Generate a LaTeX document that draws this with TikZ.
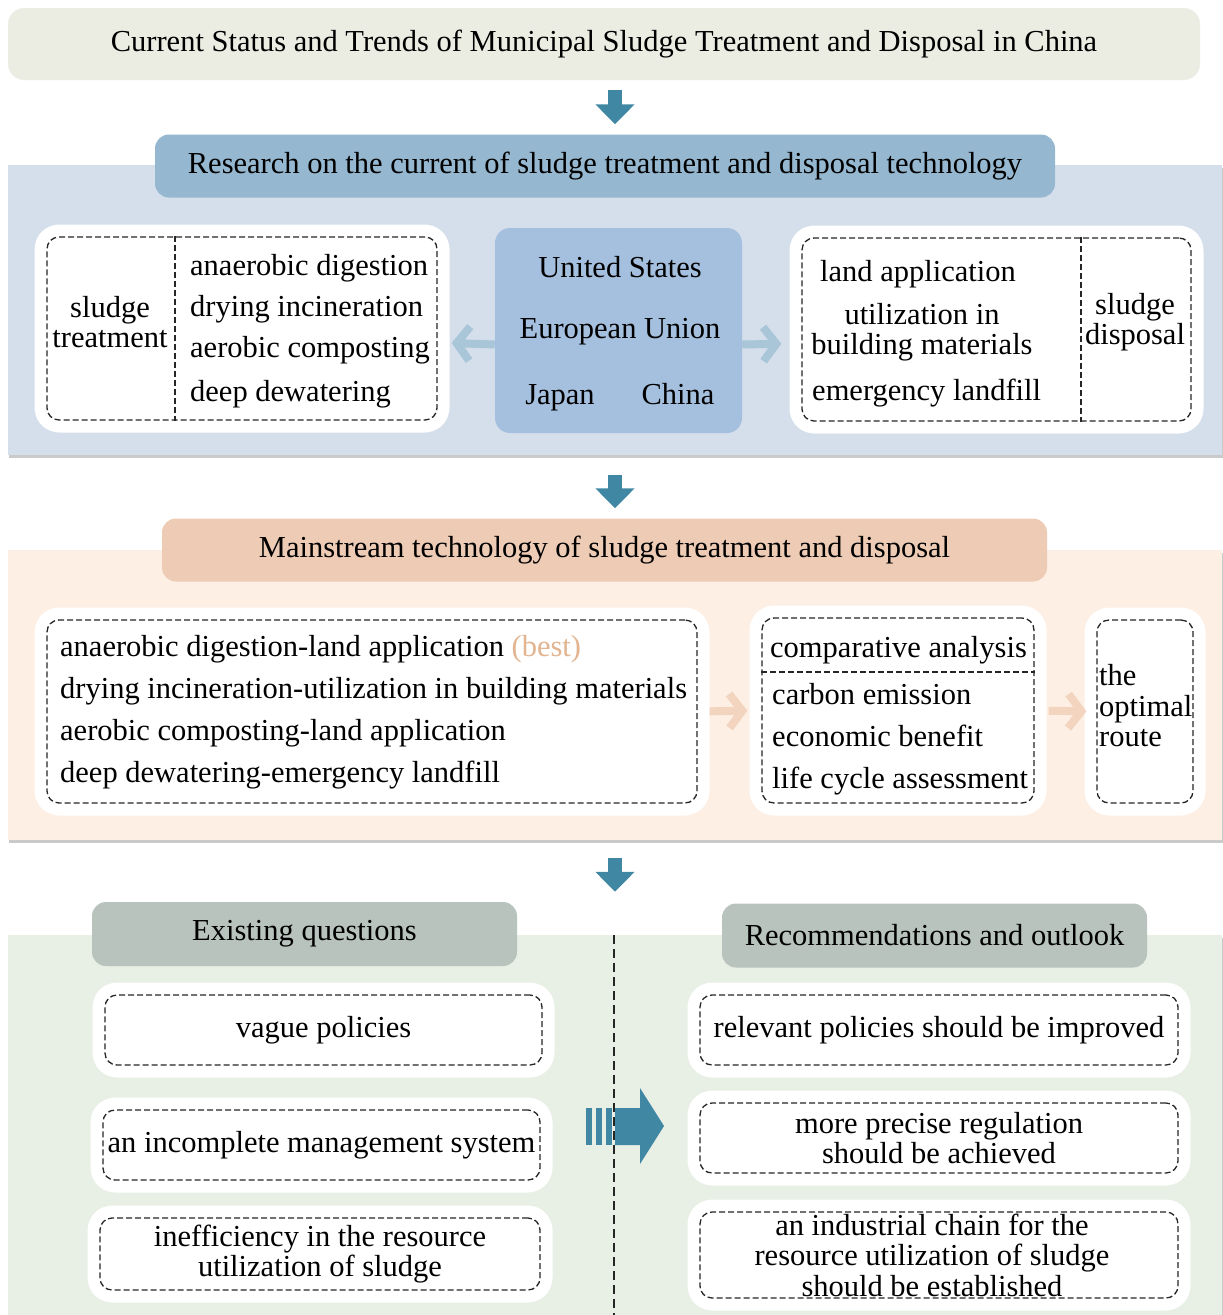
\documentclass[tikz,border=0pt]{standalone}
\usepackage{fontspec}
\setmainfont{Liberation Serif}
\usetikzlibrary{arrows.meta,positioning,shadows,calc}

\definecolor{titlefill}{HTML}{EBECE2}
\definecolor{bluebg}{HTML}{D4DFEB}
\definecolor{bluehdr}{HTML}{95B7CF}
\definecolor{bluebox}{HTML}{A5BFDE}
\definecolor{bluearrow}{HTML}{A8C6D8}
\definecolor{peachbg}{HTML}{FDEFE4}
\definecolor{peachhdr}{HTML}{EDCBB5}
\definecolor{peacharrow}{HTML}{F3D4BF}
\definecolor{besttext}{HTML}{E2B48F}
\definecolor{greenbg}{HTML}{E8EFE4}
\definecolor{greyhdr}{HTML}{B8C3BE}
\definecolor{tealarrow}{HTML}{3F87A2}

\tikzset{
  secbg/.style={fill=#1, inner sep=0pt,
    drop shadow={shadow xshift=1pt, shadow yshift=-3pt, opacity=0.35, fill=black!60}},
  header/.style={fill=#1, rounded corners=14pt, inner sep=0pt, minimum height=63pt},
  dashbox/.style={draw=black!85, line width=1.3pt, dash pattern=on 6pt off 3pt,
    rounded corners=12pt, inner sep=0pt,
    preaction={fill=white, draw=white, solid, line width=25pt, line join=round}},
  dashline/.style={draw=black!85, line width=1.3pt, dash pattern=on 6pt off 3pt},
  item/.style={anchor=base west, inner sep=0pt},
  label/.style={inner sep=0pt, align=center},
  bigdown/.style={draw=tealarrow, line width=14pt, -{Triangle[length=20pt,width=38pt]}},
  softarrow/.style={draw=#1, line width=8pt, -{Straight Barb[length=13pt,width=34pt]}}
}

\begin{document}
\begin{tikzpicture}[x=1pt, y=-1pt, font=\fontsize{30.5}{30.5}\selectfont]
  \useasboundingbox (0,0) rectangle (1223,1315);

  % title and first arrow
  \node[fill=titlefill, rounded corners=16pt, minimum width=1192pt, minimum height=72pt, inner sep=0pt]
    (title) at (604,44) {Current Status and Trends of Municipal Sludge Treatment and Disposal in China};
  \coordinate (axis) at (615,0);

  % research on the current status
  \node[secbg=bluebg, minimum width=1214pt, minimum height=290pt] (sec1) at (615,310) {};
  \node[header=bluehdr, minimum width=900pt] (hdr1) at (605,166)
    {Research on the current of sludge treatment and disposal technology};
  \draw[bigdown, shorten <=10pt, shorten >=10pt] (axis |- title.south) -- (axis |- hdr1.north);

  \node[dashbox, minimum width=390pt, minimum height=183pt] (treat) at (242,328.5) {};
  \coordinate (tdiv) at (175,0);
  \draw[dashline] (tdiv |- treat.north) -- (tdiv |- treat.south);
  \node[label] (trlabel) at (110,322) {sludge\\treatment};
  \node[item] (tr1) at (190,275) {anaerobic digestion};
  \node[item] (tr2) at (190,316) {drying incineration};
  \node[item] (tr3) at (190,357) {aerobic composting};
  \node[item] (tr4) at (190,401) {deep dewatering};

  \node[fill=bluebox, rounded corners=15pt, minimum width=247pt, minimum height=205pt, inner sep=0pt]
    (ctr) at (618.5,330.5) {};
  \node[label] (us) at (620,267) {United States};
  \node[label] (eu) at (620,332) {European Union};
  \node[label, anchor=base] (jp) at (560,404) {Japan};
  \node[label, anchor=base] (cn) at (678,404) {China};

  \node[dashbox, minimum width=389pt, minimum height=183pt] (disp) at (996.5,329.5) {};
  \coordinate (ddiv) at (1081,0);
  \draw[dashline] (ddiv |- disp.north) -- (ddiv |- disp.south);
  \node[item] (dp1) at (820,281) {land application};
  \node[label] (dp2) at (922,332) {utilization in\\building materials};
  \node[item] (dp3) at (812,400) {emergency landfill};
  \node[label] (dplabel) at (1135,322) {sludge\\disposal};

  \draw[softarrow=bluearrow, shorten >=14pt] ($(ctr.west)+(0,14)$) -- ($(treat.east)+(0,14)$);
  \draw[softarrow=bluearrow, shorten >=20pt] ($(ctr.east)+(0,14)$) -- ($(disp.west)+(0,14)$);

  % mainstream technology
  \node[secbg=peachbg, minimum width=1214pt, minimum height=290pt] (sec2) at (615,695) {};
  \node[header=peachhdr, minimum width=885pt] (hdr2) at (604.5,550)
    {Mainstream technology of sludge treatment and disposal};
  \draw[bigdown, shorten <=20pt, shorten >=10pt] (axis |- sec1.south) -- (axis |- hdr2.north);

  \node[dashbox, minimum width=650pt, minimum height=183pt] (route) at (372,711.5) {};
  \node[item] (rt1) at (60,656) {anaerobic digestion-land application \textcolor{besttext}{(best)}};
  \node[item] (rt2) at (60,698) {drying incineration-utilization in building materials};
  \node[item] (rt3) at (60,740) {aerobic composting-land application};
  \node[item] (rt4) at (60,782) {deep dewatering-emergency landfill};

  \node[dashbox, minimum width=272pt, minimum height=185pt] (comp) at (898,710.5) {};
  \coordinate (cdiv) at (0,672);
  \draw[dashline] (comp.west |- cdiv) -- (comp.east |- cdiv);
  \node[item] (cp0) at (770,657) {comparative analysis};
  \node[item] (cp1) at (772,704) {carbon emission};
  \node[item] (cp2) at (772,746) {economic benefit};
  \node[item] (cp3) at (772,788) {life cycle assessment};

  \node[dashbox, minimum width=96pt, minimum height=183pt] (best) at (1145,711.5) {};
  \node[label, align=left, anchor=west] (optimal) at (1099,706) {the\\optimal\\route};

  \draw[softarrow=peacharrow, shorten <=12pt, shorten >=14pt] (route.east) -- (comp.west);
  \draw[softarrow=peacharrow, shorten <=14pt, shorten >=10pt] (comp.east) -- (best.west);

  % questions and outlook
  \node[secbg=greenbg, minimum width=1214pt, minimum height=390pt] (sec3) at (615,1130) {};
  \node[header=greyhdr, minimum width=425pt, minimum height=64pt] (hdrq) at (304.5,934) {Existing questions};
  \node[header=greyhdr, minimum width=425pt, minimum height=64pt] (hdrr) at (934.5,935.5) {Recommendations and outlook};
  \draw[bigdown, shorten <=18pt, shorten >=10pt] (axis |- sec2.south) -- (axis |- hdrq.north);

  \node[dashbox, minimum width=437pt, minimum height=70pt] (q1) at (323.5,1030) {};
  \node[label] (q1t) at (q1) {vague policies};
  \node[dashbox, minimum width=437pt, minimum height=70pt] (q2) at (321.5,1145) {};
  \node[label] (q2t) at (q2) {an incomplete management system};
  \node[dashbox, minimum width=440pt, minimum height=72pt] (q3) at (320,1254) {};
  \node[label] (q3t) at (q3) {inefficiency in the resource\\utilization of sludge};

  \node[dashbox, minimum width=478pt, minimum height=70pt] (r1) at (939,1030) {};
  \node[label] (r1t) at (r1) {relevant policies should be improved};
  \node[dashbox, minimum width=478pt, minimum height=70pt] (r2) at (939,1138) {};
  \node[label] (r2t) at (r2) {more precise regulation\\should be achieved};
  \node[dashbox, minimum width=478pt, minimum height=86pt] (r3) at (939,1255) {};
  \node[label] (r3t) at (932,1255) {an industrial chain for the\\resource utilization of sludge\\should be established};

  % striped arrow from questions to outlook
  \coordinate (push) at (586,1126);
  \begin{scope}[shift={(push)}, fill=tealarrow]
    \foreach \s in {0,10,20}
      \fill (\s,-18) rectangle ++(6,37);
    \fill (29,-18) -- (54,-18) -- (54,-38) -- (78,0) -- (54,38) -- (54,19) -- (29,19) -- cycle;
  \end{scope}

  \coordinate (mid) at (614,0);
  \draw[draw=black!85, line width=2pt, dash pattern=on 9pt off 5pt] (mid |- sec3.north) -- (mid |- sec3.south);
\end{tikzpicture}
\end{document}
